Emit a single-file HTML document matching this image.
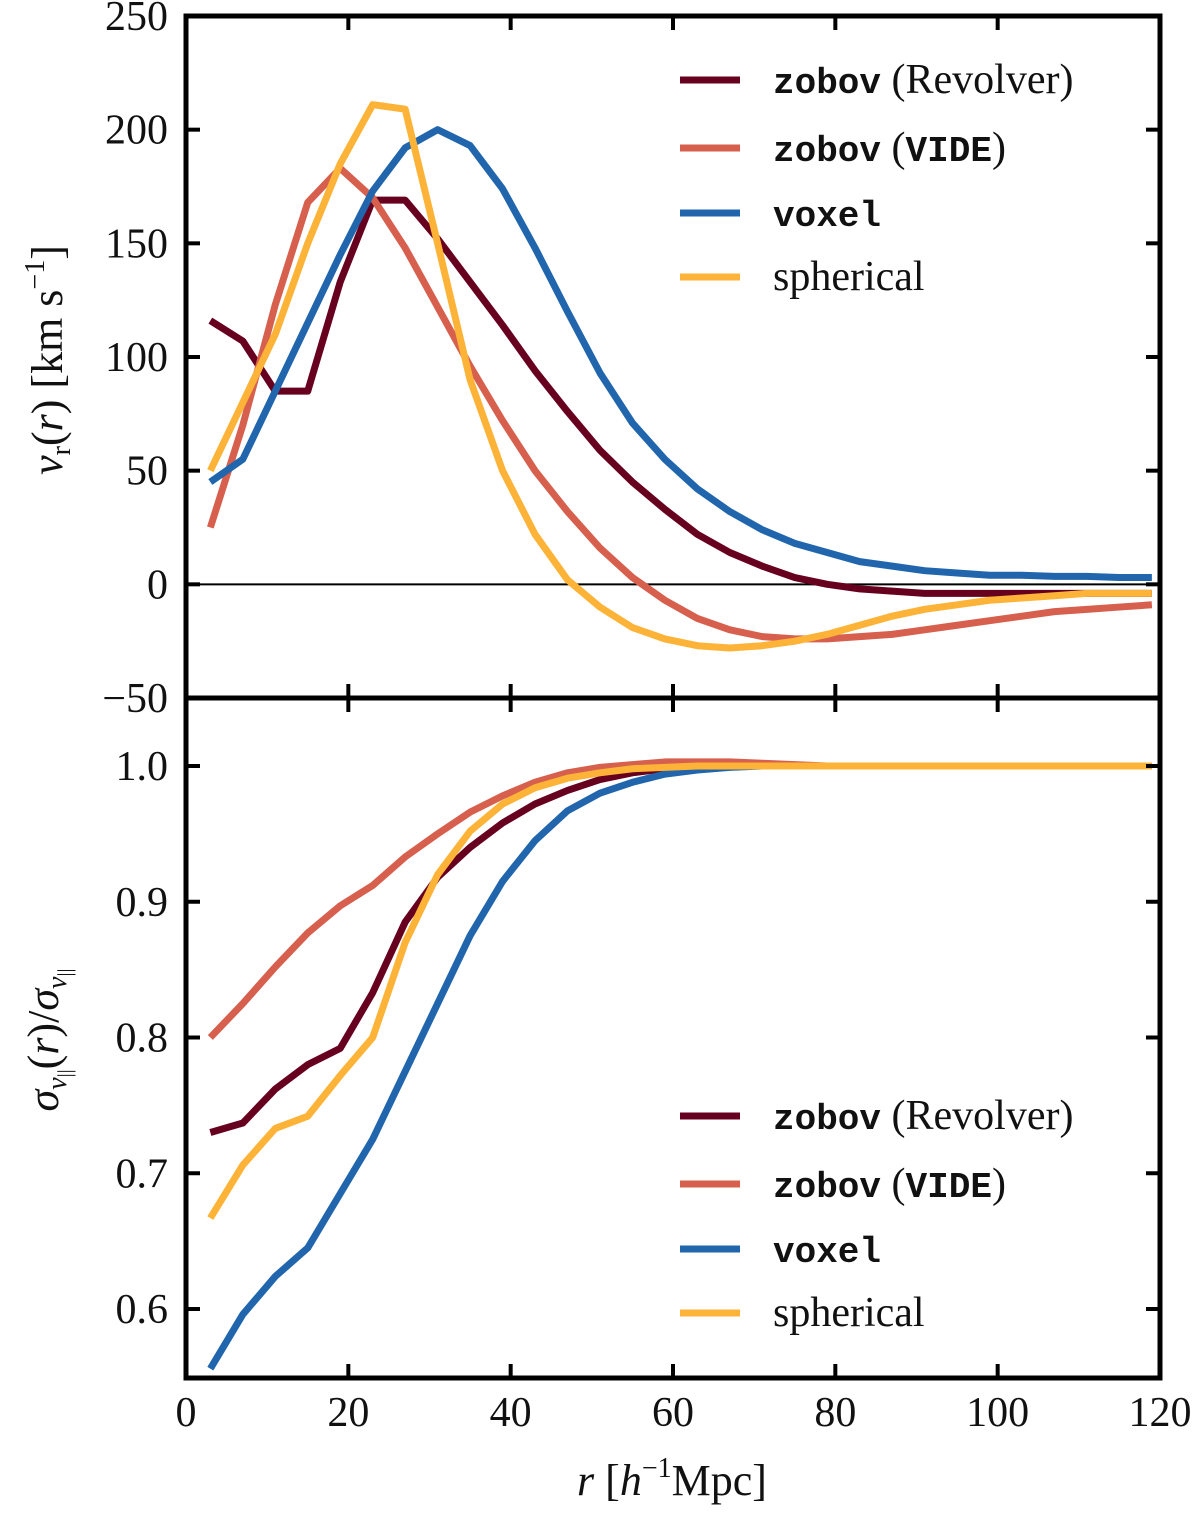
<!DOCTYPE html>
<html><head><meta charset="utf-8"><style>
body{margin:0;background:#fff;}
svg{display:block;}
text{font-family:"Liberation Serif","DejaVu Serif",serif;fill:#111;}
.mono{font-family:"Liberation Mono","DejaVu Sans Mono",monospace;font-weight:bold;font-size:36px;}
</style></head><body>
<svg id="chart" width="1200" height="1515" viewBox="0 0 1200 1515" xmlns="http://www.w3.org/2000/svg">
<g id="top"></g>
<g id="bot"></g>
<g id="labels">
<text transform="translate(62,360) rotate(-90)" text-anchor="middle" font-size="44"><tspan font-style="italic">v</tspan><tspan font-size="28" dy="8">r</tspan><tspan dy="-8">(</tspan><tspan font-style="italic">r</tspan>) [km s<tspan font-size="28" dy="-18">−1</tspan><tspan dy="18">]</tspan></text>
<text transform="translate(58,1040) rotate(-90)" text-anchor="middle" font-size="44"><tspan font-style="italic">σ</tspan><tspan font-style="italic" font-size="28" dy="8">v</tspan><tspan font-size="20" dy="5">||</tspan><tspan dy="-13">(</tspan><tspan font-style="italic">r</tspan>)/<tspan font-style="italic">σ</tspan><tspan font-style="italic" font-size="28" dy="8">v</tspan><tspan font-size="20" dy="5">||</tspan></text>
<text x="672" y="1495" text-anchor="middle" font-size="44"><tspan font-style="italic">r</tspan> [<tspan font-style="italic">h</tspan><tspan font-size="28" dy="-18">−1</tspan><tspan dy="18">Mpc]</tspan></text>
</g>
</svg>
<script>
const rVals=[3,7,11,15,19,23,27,31,35,39,43,47,51,55,59,63,67,71,75,79,83,87,91,95,99,103,107,111,115,119];
const names=["zobov (Revolver)","zobov (VIDE)","voxel","spherical"];
const colors=["#67001f","#d6604d","#2166ac","#fdb338"];
const vRevolver=[116,107,85,85,133,169,169,152,133,114,94,76,59,45,33,22,14,8,3,0,-2,-3,-4,-4,-4,-4,-4,-4,-4,-4];
const vVide=[25,70,123,168,183,170,148,122,96,72,50,32,16,3,-7,-15,-20,-23,-24,-24,-23,-22,-20,-18,-16,-14,-12,-11,-10,-9];
const vVoxel=[45,55,85,115,145,173,192,200,193,174,148,120,93,71,55,42,32,24,18,14,10,8,6,5,4,4,3.5,3.5,3,3];
const vSpherical=[50,80,110,150,185,211,209,150,90,50,22,2,-10,-19,-24,-27,-28,-27,-25,-22,-18,-14,-11,-9,-7,-6,-5,-4,-4,-4];
const sRevolver=[0.73,0.737,0.762,0.78,0.792,0.833,0.885,0.918,0.94,0.958,0.972,0.982,0.99,0.995,0.998,1.0,1.0,1.0,1.0,1.0,1.0,1.0,1.0,1.0,1.0,1.0,1.0,1.0,1.0,1.0];
const sVide=[0.80,0.825,0.852,0.877,0.897,0.912,0.933,0.95,0.966,0.978,0.988,0.995,0.999,1.001,1.003,1.003,1.003,1.002,1.001,1.0,1.0,1.0,1.0,1.0,1.0,1.0,1.0,1.0,1.0,1.0];
const sVoxel=[0.556,0.596,0.624,0.645,0.685,0.725,0.775,0.825,0.875,0.915,0.945,0.967,0.98,0.988,0.994,0.997,0.999,1.0,1.0,1.0,1.0,1.0,1.0,1.0,1.0,1.0,1.0,1.0,1.0,1.0];
const sSpherical=[0.667,0.706,0.733,0.742,0.772,0.80,0.87,0.92,0.952,0.972,0.984,0.991,0.995,0.998,0.999,1.0,1.0,1.0,1.0,1.0,1.0,1.0,1.0,1.0,1.0,1.0,1.0,1.0,1.0,1.0];
const xTicks=[0,20,40,60,80,100,120];
const topTicks=[-50,0,50,100,150,200,250];
const botTicks=[0.6,0.7,0.8,0.9,1.0];

const NS="http://www.w3.org/2000/svg";
const L=186,R=1160;
const xs=v=>L+(v-0)/120*(R-L);
const T1=16,B1=698,T2=698,B2=1378;
const yTop=v=>B1-(v+50)/300*(B1-T1);
const yBot=v=>766+(1.0-v)*1357.5;
function el(p,tag,a){const e=document.createElementNS(NS,tag);for(const k in a)e.setAttribute(k,a[k]);p.appendChild(e);return e;}
function panel(g,top,bot,yf,yticks,fmt,series,legY,zero){
  const clip=el(g,"clipPath",{id:g.id+"c"});
  el(clip,"rect",{x:L,y:top,width:R-L,height:bot-top});
  if(zero){const z=el(g,"line",{x1:L,x2:R,y1:yf(0),y2:yf(0),stroke:"#000","stroke-width":2});
    
    }
  series.forEach((s,i)=>{
    const p=el(g,"polyline",{points:s.map((v,j)=>xs(rVals[j])+","+yf(v)).join(" "),fill:"none",stroke:colors[i],"stroke-width":7,"stroke-linejoin":"round","clip-path":"url(#"+g.id+"c)"});
    
    
  });
  xTicks.forEach(t=>{
    const x=xs(t);
    el(g,"line",{x1:x,x2:x,y1:top,y2:top+14,stroke:"#000","stroke-width":4});
    el(g,"line",{x1:x,x2:x,y1:bot,y2:bot-14,stroke:"#000","stroke-width":4});
  });
  yticks.forEach(t=>{
    const y=yf(t);
    el(g,"line",{x1:L,x2:L+14,y1:y,y2:y,stroke:"#000","stroke-width":4});
    el(g,"line",{x1:R,x2:R-14,y1:y,y2:y,stroke:"#000","stroke-width":4});
    const tx=el(g,"text",{x:168,y:y+14,"text-anchor":"end","font-size":42});
    tx.textContent=fmt(t);
    
    
  });
  const fr=el(g,"rect",{x:L,y:top,width:R-L,height:bot-top,fill:"none",stroke:"#000","stroke-width":5});
  
  
  const lg=el(g,"g",{});
  
  
  const gaps=[0,68,133,197];
  names.forEach((n,i)=>{
    const y=legY+gaps[i];
    const e=el(lg,"g",{});
    
    
    el(e,"line",{x1:680,x2:740,y1:y,y2:y,stroke:colors[i],"stroke-width":7});
    const t=el(e,"text",{x:773,y:y+13,"font-size":42});
    if(n.startsWith("zobov")){
      const a=el(t,"tspan",{class:"mono"});a.textContent="zobov";
      const b=el(t,"tspan",{});b.textContent=" (";
      const c=el(t,"tspan",{class:n.includes("VIDE")?"mono":""});c.textContent=n.includes("VIDE")?"VIDE":"Revolver";
      const d=el(t,"tspan",{});d.textContent=")";
    } else if(n==="voxel"){const a=el(t,"tspan",{class:"mono"});a.textContent="voxel";}
    else t.textContent=n;
  });
}
const gt=document.getElementById("top"),gb=document.getElementById("bot");
panel(gt,T1,B1,yTop,topTicks,t=>t<0?"−"+(-t):String(t),[vRevolver,vVide,vVoxel,vSpherical],80,true);
panel(gb,T2,B2,yBot,botTicks,t=>t.toFixed(1),[sRevolver,sVide,sVoxel,sSpherical],1116,false);
xTicks.forEach(t=>{
  const tx=el(gb,"text",{x:xs(t),y:1426,"text-anchor":"middle","font-size":42});
  tx.textContent=String(t);
  
  
});
</script>
</body></html>
